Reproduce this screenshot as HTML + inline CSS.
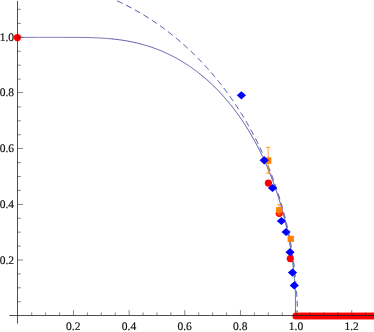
<!DOCTYPE html>
<html><head><meta charset="utf-8"><style>
html,body{margin:0;padding:0;background:#fff;}
svg{display:block}
text{font-family:"Liberation Serif",serif;font-size:11.5px;fill:#111;stroke:#111;stroke-width:0.18px;text-rendering:geometricPrecision}
#w{will-change:transform;width:374px;height:332px}
</style></head><body>
<div id="w"><svg width="374" height="332" viewBox="0 0 374 332">
<rect width="374" height="332" fill="#fff"/>
<path d="M17.80,37.35 L35.97,37.35 L36.44,37.35 L36.93,37.35 L37.45,37.35 L38.00,37.35 L38.58,37.35 L39.19,37.35 L39.84,37.35 L40.53,37.35 L41.27,37.35 L42.05,37.35 L42.89,37.35 L43.79,37.35 L44.76,37.35 L45.80,37.35 L46.92,37.35 L48.14,37.35 L49.46,37.35 L50.91,37.35 L52.49,37.35 L54.24,37.35 L56.16,37.35 L58.31,37.35 L60.70,37.35 L63.40,37.35 L66.46,37.36 L69.96,37.36 L74.00,37.38 L78.71,37.41 L84.28,37.48 L90.96,37.63 L91.87,37.66 L99.09,37.95 L99.32,37.96 L104.39,38.27 L108.37,38.57 L109.17,38.64" fill="none" stroke="#3d3d99" stroke-width="0.68"/>
<path d="M109.17,38.64 L111.70,38.88 L114.60,39.18 L117.19,39.49 L119.53,39.80 L121.68,40.10 L121.90,40.13 L123.68,40.41 L125.55,40.71 L127.31,41.02 L128.98,41.32 L130.56,41.63 L132.07,41.93 L133.51,42.24 L134.90,42.55 L136.23,42.85 L137.52,43.16 L138.29,43.35 L138.76,43.46 L139.97,43.77 L141.13,44.07 L142.27,44.38 L143.37,44.69 L144.44,44.99 L145.49,45.30 L146.51,45.60 L147.50,45.91 L148.47,46.21 L149.43,46.52 L150.36,46.83 L151.27,47.13 L152.16,47.44 L153.04,47.74 L153.90,48.05 L154.75,48.35 L155.58,48.66 L156.39,48.97 L157.20,49.27 L157.99,49.58 L158.76,49.88 L159.53,50.19 L159.72,50.27 L160.28,50.49 L161.02,50.80 L161.75,51.10 L162.47,51.41 L163.19,51.72 L163.89,52.02 L164.58,52.33 L165.26,52.63 L165.94,52.94 L166.60,53.24 L167.26,53.55 L167.91,53.86 L168.55,54.16 L169.19,54.47 L169.81,54.77 L170.44,55.08 L171.05,55.38 L171.66,55.69 L172.26,56.00 L172.85,56.30 L173.44,56.61 L174.02,56.91 L174.60,57.22 L175.17,57.52 L175.73,57.83 L176.29,58.14 L176.85,58.44 L177.40,58.75 L177.94,59.05 L178.48,59.36 L179.01,59.66 L179.54,59.97 L180.07,60.27 L180.59,60.58 L181.10,60.89 L181.62,61.19 L182.12,61.50 L182.63,61.80 L183.13,62.11 L183.62,62.41 L184.11,62.72 L184.60,63.03 L185.08,63.33 L185.56,63.64 L186.04,63.94 L186.51,64.25 L186.98,64.55 L187.45,64.86 L187.91,65.17 L187.93,65.18 L188.37,65.47 L188.82,65.78 L189.28,66.08 L189.73,66.39 L190.17,66.69 L190.61,67.00 L191.05,67.31 L191.49,67.61 L191.93,67.92 L192.36,68.22 L192.79,68.53 L193.21,68.83 L193.63,69.14 L194.05,69.44 L194.47,69.75 L194.89,70.06 L195.30,70.36 L195.71,70.67 L196.12,70.97 L196.52,71.28 L196.92,71.58 L197.32,71.89 L197.72,72.20 L198.11,72.50 L198.51,72.81 L198.90,73.11 L199.29,73.42 L199.67,73.72" fill="none" stroke="#3d3d99" stroke-width="0.85"/>
<path d="M199.29,73.42 L199.67,73.72 L200.06,74.03 L200.44,74.34 L200.82,74.64 L201.19,74.95 L201.57,75.25 L201.94,75.56 L202.31,75.86 L202.68,76.17 L203.05,76.48 L203.41,76.78 L203.78,77.09 L204.14,77.39 L204.50,77.70 L204.86,78.00 L205.21,78.31 L205.57,78.61 L205.92,78.92 L206.27,79.23 L206.62,79.53 L206.96,79.84 L207.31,80.14 L207.65,80.45 L207.99,80.75 L208.33,81.06 L208.67,81.37 L209.01,81.67 L209.34,81.98 L209.67,82.28 L210.01,82.59 L210.34,82.89 L210.66,83.20 L210.99,83.51 L211.32,83.81 L211.64,84.12 L211.96,84.42 L212.28,84.73 L212.60,85.03 L212.92,85.34 L213.24,85.65 L213.55,85.95 L213.87,86.26 L214.18,86.56 L214.49,86.87 L214.80,87.17 L215.11,87.48 L215.41,87.78 L215.72,88.09 L216.02,88.40 L216.32,88.70 L216.63,89.01 L216.93,89.31 L217.22,89.62 L217.52,89.92 L217.82,90.23 L218.11,90.54 L218.41,90.84 L218.70,91.15 L218.99,91.45 L219.28,91.76 L219.57,92.06 L219.86,92.37 L220.14,92.68 L220.43,92.98 L220.71,93.29 L221.00,93.59 L221.28,93.90 L221.56,94.20 L221.84,94.51 L222.12,94.82 L222.39,95.12 L222.67,95.43 L222.94,95.73 L223.22,96.04 L223.49,96.34 L223.76,96.65 L224.03,96.95 L224.30,97.26 L224.57,97.57 L224.84,97.87 L225.11,98.18 L225.37,98.48 L225.64,98.79 L225.90,99.09 L226.16,99.40 L226.42,99.71 L226.68,100.01 L226.94,100.32 L227.20,100.62 L227.46,100.93 L227.72,101.23 L227.97,101.54 L228.23,101.85 L228.48,102.15 L228.73,102.46 L228.99,102.76 L229.24,103.07 L229.49,103.37 L229.74,103.68 L229.98,103.99 L230.23,104.29 L230.48,104.60 L230.72,104.90 L230.97,105.21 L231.21,105.51 L231.46,105.82 L231.70,106.12 L231.94,106.43 L232.18,106.74 L232.42,107.04 L232.66,107.35 L232.89,107.65 L233.13,107.96 L233.37,108.26 L233.60,108.57 L233.84,108.88 L234.07,109.18 L234.30,109.49 L234.54,109.79 L234.77,110.10 L235.00,110.40 L235.23,110.71 L235.46,111.02 L235.68,111.32 L235.91,111.63 L236.14,111.93 L236.36,112.24 L236.59,112.54 L236.81,112.85 L237.04,113.16 L237.26,113.46 L237.48,113.77 L237.70,114.07 L237.92,114.38 L238.14,114.68 L238.36,114.99 L238.58,115.29 L238.80,115.60 L239.01,115.91 L239.23,116.21 L239.45,116.52 L239.66,116.82 L239.87,117.13 L240.09,117.43 L240.30,117.74 L240.51,118.05 L240.72,118.35 L240.93,118.66 L241.14,118.96 L241.35,119.27 L241.56,119.57 L241.77,119.88 L241.98,120.19 L242.18,120.49 L242.39,120.80 L242.59,121.10 L242.80,121.41 L243.00,121.71 L243.20,122.02 L243.41,122.33 L243.61,122.63 L243.81,122.94 L244.01,123.24 L244.21,123.55 L244.41,123.85 L244.61,124.16 L244.81,124.46 L245.00,124.77 L245.20,125.08 L245.40,125.38 L245.59,125.69 L245.79,125.99 L245.98,126.30 L246.17,126.60 L246.37,126.91 L246.56,127.22 L246.75,127.52 L246.94,127.83 L247.13,128.13 L247.32,128.44 L247.51,128.74 L247.70,129.05 L247.89,129.36 L248.08,129.66 L248.27,129.97 L248.45,130.27 L248.64,130.58 L248.82,130.88 L249.01,131.19 L249.19,131.50 L249.38,131.80 L249.56,132.11 L249.74,132.41 L249.92,132.72 L250.11,133.02 L250.29,133.33 L250.47,133.63 L250.65,133.94 L250.83,134.25 L251.00,134.55 L251.18,134.86 L251.36,135.16 L251.54,135.47 L251.71,135.77 L251.89,136.08 L252.07,136.39 L252.24,136.69 L252.42,137.00 L252.59,137.30 L252.76,137.61 L252.94,137.91 L253.11,138.22 L253.28,138.53 L253.45,138.83 L253.62,139.14 L253.79,139.44 L253.96,139.75 L254.13,140.05 L254.30,140.36 L254.47,140.67 L254.64,140.97 L254.80,141.28 L254.97,141.58 L255.14,141.89 L255.30,142.19 L255.47,142.50 L255.63,142.80 L255.80,143.11 L255.96,143.42 L256.12,143.72 L256.29,144.03 L256.45,144.33 L256.61,144.64 L256.77,144.94 L256.93,145.25 L257.09,145.56 L257.25,145.86 L257.41,146.17 L257.57,146.47 L257.73,146.78 L257.89,147.08 L258.05,147.39 L258.20,147.70 L258.36,148.00 L258.52,148.31 L258.67,148.61 L258.83,148.92 L258.98,149.22 L259.14,149.53 L259.29,149.84 L259.44,150.14 L259.60,150.45 L259.75,150.75 L259.90,151.06 L260.05,151.36 L260.20,151.67 L260.36,151.97 L260.51,152.28 L260.66,152.59 L260.81,152.89 L260.95,153.20 L261.10,153.50 L261.25,153.81 L261.40,154.11 L261.55,154.42 L261.69,154.73 L261.84,155.03 L261.99,155.34 L262.13,155.64 L262.28,155.95 L262.42,156.25 L262.57,156.56 L262.71,156.87 L262.85,157.17 L263.00,157.48 L263.14,157.78 L263.28,158.09 L263.42,158.39 L263.56,158.70 L263.70,159.01 L263.85,159.31 L263.99,159.62 L264.13,159.92 L264.26,160.23 L264.40,160.53 L264.54,160.84 L264.68,161.14 L264.82,161.45 L264.95,161.76 L265.09,162.06 L265.23,162.37 L265.36,162.67 L265.50,162.98 L265.64,163.28 L265.77,163.59 L265.90,163.90 L266.04,164.20 L266.17,164.51 L266.31,164.81 L266.44,165.12 L266.57,165.42 L266.70,165.73 L266.84,166.04 L266.97,166.34 L267.10,166.65 L267.23,166.95 L267.36,167.26 L267.49,167.56 L267.62,167.87 L267.75,168.18 L267.88,168.48 L268.00,168.79 L268.13,169.09 L268.26,169.40 L268.39,169.70 L268.51,170.01 L268.64,170.31 L268.77,170.62 L268.89,170.93 L269.02,171.23 L269.14,171.54 L269.27,171.84 L269.39,172.15 L269.51,172.45 L269.64,172.76 L269.76,173.07 L269.88,173.37 L270.01,173.68 L270.13,173.98 L270.25,174.29 L270.37,174.59 L270.49,174.90 L270.61,175.21 L270.73,175.51 L270.85,175.82 L270.97,176.12 L271.09,176.43 L271.21,176.73 L271.33,177.04 L271.45,177.35 L271.56,177.65 L271.68,177.96 L271.80,178.26 L271.92,178.57 L272.03,178.87 L272.15,179.18 L272.26,179.48 L272.38,179.79 L272.49,180.10 L272.61,180.40 L272.72,180.71 L272.84,181.01 L272.95,181.32 L273.06,181.62 L273.18,181.93 L273.29,182.24 L273.40,182.54 L273.51,182.85 L273.62,183.15 L273.74,183.46 L273.85,183.76 L273.96,184.07 L274.07,184.38 L274.18,184.68 L274.29,184.99 L274.40,185.29 L274.50,185.60 L274.61,185.90 L274.72,186.21 L274.83,186.52 L274.94,186.82 L275.04,187.13 L275.15,187.43 L275.26,187.74 L275.36,188.04 L275.47,188.35 L275.57,188.65 L275.68,188.96 L275.78,189.27 L275.89,189.57 L275.99,189.88 L276.10,190.18 L276.20,190.49 L276.30,190.79 L276.41,191.10 L276.51,191.41 L276.61,191.71 L276.71,192.02 L276.82,192.32 L276.92,192.63 L277.02,192.93 L277.12,193.24 L277.22,193.55 L277.32,193.85 L277.42,194.16 L277.52,194.46 L277.62,194.77 L277.72,195.07 L277.82,195.38 L277.91,195.69 L278.01,195.99 L278.11,196.30 L278.21,196.60 L278.30,196.91 L278.40,197.21 L278.50,197.52 L278.59,197.82 L278.69,198.13 L278.78,198.44 L278.88,198.74 L278.97,199.05 L279.07,199.35 L279.16,199.66 L279.26,199.96 L279.35,200.27 L279.44,200.58 L279.54,200.88 L279.63,201.19 L279.72,201.49 L279.81,201.80 L279.91,202.10 L280.00,202.41 L280.09,202.72 L280.18,203.02 L280.27,203.33 L280.36,203.63 L280.45,203.94 L280.54,204.24 L280.63,204.55 L280.72,204.86 L280.81,205.16 L280.90,205.47 L280.98,205.77 L281.07,206.08 L281.16,206.38 L281.25,206.69 L281.33,206.99 L281.42,207.30 L281.51,207.61 L281.59,207.91 L281.68,208.22 L281.76,208.52 L281.85,208.83 L281.93,209.13 L282.02,209.44 L282.10,209.75 L282.19,210.05 L282.27,210.36 L282.36,210.66 L282.44,210.97 L282.52,211.27 L282.60,211.58 L282.69,211.89 L282.77,212.19 L282.85,212.50 L282.93,212.80 L283.01,213.11 L283.10,213.41 L283.18,213.72 L283.26,214.03 L283.34,214.33 L283.42,214.64 L283.50,214.94 L283.58,215.25 L283.65,215.55 L283.73,215.86 L283.81,216.16 L283.89,216.47 L283.97,216.78 L284.05,217.08 L284.12,217.39 L284.20,217.69 L284.28,218.00 L284.35,218.30 L284.43,218.61 L284.51,218.92 L284.58,219.22 L284.66,219.53 L284.73,219.83 L284.81,220.14 L284.88,220.44 L284.96,220.75 L285.03,221.06 L285.10,221.36 L285.18,221.67 L285.25,221.97 L285.32,222.28 L285.40,222.58 L285.47,222.89 L285.54,223.20 L285.61,223.50 L285.69,223.81 L285.76,224.11 L285.83,224.42 L285.90,224.72 L285.97,225.03 L286.04,225.33 L286.11,225.64 L286.18,225.95 L286.25,226.25 L286.32,226.56 L286.39,226.86 L286.46,227.17 L286.52,227.47 L286.59,227.78 L286.66,228.09 L286.73,228.39 L286.80,228.70 L286.86,229.00 L286.93,229.31 L287.00,229.61 L287.06,229.92 L287.13,230.23 L287.19,230.53 L287.26,230.84 L287.33,231.14 L287.39,231.45 L287.45,231.75 L287.52,232.06 L287.58,232.37 L287.65,232.67 L287.71,232.98 L287.77,233.28 L287.84,233.59 L287.90,233.89 L287.96,234.20 L288.03,234.50 L288.09,234.81 L288.15,235.12 L288.21,235.42 L288.27,235.73 L288.33,236.03 L288.40,236.34 L288.46,236.64 L288.52,236.95 L288.58,237.26 L288.64,237.56 L288.70,237.87 L288.76,238.17 L288.81,238.48 L288.87,238.78 L288.93,239.09 L288.99,239.40 L289.05,239.70 L289.11,240.01 L289.16,240.31 L289.22,240.62 L289.28,240.92 L289.33,241.23 L289.39,241.53 L289.45,241.84 L289.50,242.15 L289.56,242.45 L289.62,242.76 L289.67,243.06 L289.73,243.37 L289.78,243.67 L289.83,243.98 L289.89,244.29 L289.94,244.59 L290.00,244.90 L290.05,245.20 L290.10,245.51 L290.16,245.81 L290.21,246.12 L290.26,246.43 L290.31,246.73 L290.37,247.04 L290.42,247.34 L290.47,247.65 L290.52,247.95 L290.57,248.26 L290.62,248.57 L290.67,248.87 L290.72,249.18 L290.77,249.48 L290.82,249.79 L290.87,250.09 L290.92,250.40 L290.97,250.70 L291.02,251.01 L291.07,251.32 L291.12,251.62 L291.17,251.93 L291.21,252.23 L291.26,252.54 L291.31,252.84 L291.36,253.15 L291.40,253.46 L291.45,253.76 L291.50,254.07 L291.54,254.37 L291.59,254.68 L291.63,254.98 L291.68,255.29 L291.73,255.60 L291.77,255.90 L291.82,256.21 L291.86,256.51 L291.90,256.82 L291.95,257.12 L291.99,257.43 L292.04,257.74 L292.08,258.04 L292.12,258.35 L292.16,258.65 L292.21,258.96 L292.25,259.26 L292.29,259.57 L292.33,259.87 L292.37,260.18 L292.42,260.49 L292.46,260.79 L292.50,261.10 L292.54,261.40 L292.58,261.71 L292.62,262.01 L292.66,262.32 L292.70,262.63 L292.74,262.93 L292.78,263.24 L292.82,263.54 L292.86,263.85 L292.89,264.15 L292.93,264.46 L292.97,264.77 L293.01,265.07 L293.05,265.38 L293.08,265.68 L293.12,265.99 L293.16,266.29 L293.19,266.60 L293.23,266.91 L293.27,267.21 L293.30,267.52 L293.34,267.82 L293.37,268.13 L293.41,268.43 L293.44,268.74 L293.48,269.04 L293.51,269.35 L293.55,269.66 L293.58,269.96 L293.62,270.27 L293.65,270.57 L293.68,270.88 L293.72,271.18 L293.75,271.49 L293.78,271.80 L293.81,272.10 L293.85,272.41 L293.88,272.71 L293.91,273.02 L293.94,273.32 L293.97,273.63 L294.00,273.94 L294.03,274.24 L294.06,274.55 L294.09,274.85 L294.12,275.16 L294.15,275.46 L294.18,275.77 L294.21,276.08 L294.24,276.38 L294.27,276.69 L294.30,276.99 L294.33,277.30 L294.36,277.60 L294.39,277.91 L294.41,278.21 L294.44,278.52 L294.47,278.83 L294.50,279.13 L294.52,279.44 L294.55,279.74 L294.58,280.05 L294.60,280.35 L294.63,280.66 L294.65,280.97 L294.68,281.27 L294.70,281.58 L294.73,281.88 L294.75,282.19 L294.78,282.49 L294.80,282.80 L294.83,283.11 L294.85,283.41 L294.87,283.72 L294.90,284.02 L294.92,284.33 L294.94,284.63 L294.97,284.94 L294.99,285.25 L295.01,285.55 L295.03,285.86 L295.06,286.16 L295.08,286.47 L295.10,286.77 L295.12,287.08 L295.14,287.38 L295.16,287.69 L295.18,288.00 L295.20,288.30 L295.22,288.61 L295.24,288.91 L295.26,289.22 L295.28,289.52 L295.30,289.83 L295.32,290.14 L295.34,290.44 L295.36,290.75 L295.37,291.05 L295.39,291.36 L295.41,291.66 L295.43,291.97 L295.44,292.28 L295.45,292.58 L295.45,292.89 L295.45,293.19 L295.45,293.50 L295.45,293.80 L295.45,294.11 L295.45,294.42 L295.45,294.72 L295.45,295.03 L295.45,295.33 L295.45,295.64 L295.45,295.94 L295.45,296.25 L295.45,296.55 L295.45,296.86 L295.45,297.17 L295.45,297.47 L295.45,297.78 L295.45,298.08 L295.45,298.39 L295.45,298.69 L295.45,299.00 L295.45,299.31 L295.45,299.61 L295.45,299.92 L295.45,300.22 L295.45,300.53 L295.45,300.83 L295.45,301.14 L295.45,301.45 L295.45,301.75 L295.45,302.06 L295.45,302.36 L295.45,302.67 L295.45,302.97 L295.45,303.28 L295.45,303.59 L295.45,303.89 L295.45,304.20 L295.45,304.50 L295.45,304.81 L295.45,305.11 L295.45,305.42 L295.45,305.72 L295.45,306.03 L295.45,306.34 L295.45,306.64 L295.45,306.95 L295.45,307.25 L295.45,307.56 L295.45,307.86 L295.45,308.17 L295.45,308.48 L295.45,308.78 L295.45,309.09 L295.45,309.39 L295.45,309.70 L295.45,310.00 L295.45,310.31 L295.45,310.62 L295.45,310.92 L295.45,311.23 L295.45,311.53 L295.45,311.84 L295.45,312.14 L295.45,312.45" fill="none" stroke="#3d3d99" stroke-width="1.0"/>
<path d="M117.18,0.90 L118.31,1.42 L119.42,1.94 L120.51,2.46 L121.60,2.98 L122.67,3.49 L123.72,4.01 L124.77,4.53 L125.80,5.05 L126.82,5.57 L127.84,6.09 L128.84,6.61 L129.82,7.13 L130.80,7.64 L131.77,8.16 L132.73,8.68 L133.68,9.20 L134.62,9.72 L135.55,10.24 L136.48,10.76 L137.39,11.28 L138.30,11.80 L139.19,12.31 L140.08,12.83 L140.96,13.35 L141.84,13.87 L142.70,14.39 L143.56,14.91 L144.41,15.43 L145.25,15.95 L146.09,16.47 L146.92,16.98 L147.74,17.50 L148.56,18.02 L149.37,18.54 L150.17,19.06 L150.97,19.58 L151.76,20.10 L152.55,20.62 L153.33,21.13 L154.10,21.65 L154.87,22.17 L155.63,22.69 L156.39,23.21 L157.14,23.73 L157.89,24.25 L158.63,24.77 L159.36,25.29 L160.09,25.80 L160.82,26.32 L161.54,26.84 L162.25,27.36 L162.96,27.88 L163.67,28.40 L164.37,28.92 L165.07,29.44 L165.76,29.95 L166.45,30.47 L167.13,30.99 L167.81,31.51 L168.48,32.03 L169.15,32.55 L169.82,33.07 L170.48,33.59 L171.14,34.11 L171.79,34.62 L172.44,35.14 L173.09,35.66 L173.73,36.18 L174.37,36.70 L175.01,37.22 L175.64,37.74 L176.26,38.26 L176.89,38.78 L177.51,39.29 L178.12,39.81 L178.74,40.33 L179.35,40.85 L179.95,41.37 L180.55,41.89 L181.15,42.41 L181.75,42.93 L182.34,43.44 L182.93,43.96 L183.52,44.48 L184.10,45.00 L184.68,45.52 L185.26,46.04 L185.83,46.56 L186.40,47.08 L186.97,47.60 L187.53,48.11 L188.10,48.63 L188.65,49.15 L189.21,49.67 L189.76,50.19 L190.31,50.71 L190.86,51.23 L191.40,51.75 L191.95,52.26 L192.48,52.78 L193.02,53.30 L193.55,53.82 L194.09,54.34 L194.61,54.86 L195.14,55.38 L195.66,55.90 L196.18,56.42 L196.70,56.93 L197.22,57.45 L197.73,57.97 L198.24,58.49 L198.75,59.01 L199.25,59.53 L199.75,60.05 L200.26,60.57 L200.75,61.09 L201.25,61.60 L201.74,62.12 L202.23,62.64 L202.72,63.16 L203.21,63.68 L203.69,64.20 L204.18,64.72 L204.66,65.24 L205.13,65.75 L205.61,66.27 L206.08,66.79 L206.55,67.31 L207.02,67.83 L207.49,68.35 L207.95,68.87 L208.42,69.39 L208.88,69.91 L209.33,70.42 L209.79,70.94 L210.24,71.46 L210.70,71.98 L211.15,72.50 L211.60,73.02 L212.04,73.54 L212.49,74.06 L212.93,74.58 L213.37,75.09 L213.81,75.61 L214.24,76.13 L214.68,76.65 L215.11,77.17 L215.54,77.69 L215.97,78.21 L216.40,78.73 L216.82,79.24 L217.25,79.76 L217.67,80.28 L218.09,80.80 L218.50,81.32 L218.92,81.84 L219.33,82.36 L219.75,82.88 L220.16,83.40 L220.57,83.91 L220.97,84.43 L221.38,84.95 L221.78,85.47 L222.19,85.99 L222.59,86.51 L222.99,87.03 L223.38,87.55 L223.78,88.06 L224.17,88.58 L224.56,89.10 L224.95,89.62 L225.34,90.14 L225.73,90.66 L226.12,91.18 L226.50,91.70 L226.88,92.22 L227.26,92.73 L227.64,93.25 L228.02,93.77 L228.40,94.29 L228.77,94.81 L229.14,95.33 L229.52,95.85 L229.89,96.37 L230.25,96.89 L230.62,97.40 L230.99,97.92 L231.35,98.44 L231.71,98.96 L232.07,99.48 L232.43,100.00 L232.79,100.52 L233.15,101.04 L233.50,101.55 L233.86,102.07 L234.21,102.59 L234.56,103.11 L234.91,103.63 L235.26,104.15 L235.60,104.67 L235.95,105.19 L236.29,105.71 L236.64,106.22 L236.98,106.74 L237.32,107.26 L237.65,107.78 L237.99,108.30 L238.33,108.82 L238.66,109.34 L238.99,109.86 L239.33,110.37 L239.66,110.89 L239.98,111.41 L240.31,111.93 L240.64,112.45 L240.96,112.97 L241.29,113.49 L241.61,114.01 L241.93,114.53 L242.25,115.04 L242.57,115.56 L242.89,116.08 L243.20,116.60 L243.52,117.12 L243.83,117.64 L244.14,118.16 L244.45,118.68 L244.76,119.20 L245.07,119.71 L245.38,120.23 L245.68,120.75 L245.99,121.27 L246.29,121.79 L246.60,122.31 L246.90,122.83 L247.20,123.35 L247.49,123.86 L247.79,124.38 L248.09,124.90 L248.38,125.42 L248.68,125.94 L248.97,126.46 L249.26,126.98 L249.55,127.50 L249.84,128.02 L250.13,128.53 L250.42,129.05 L250.70,129.57 L250.99,130.09 L251.27,130.61 L251.55,131.13 L251.83,131.65 L252.11,132.17 L252.39,132.68 L252.67,133.20 L252.95,133.72 L253.22,134.24 L253.50,134.76 L253.77,135.28 L254.04,135.80 L254.32,136.32 L254.59,136.84 L254.85,137.35 L255.12,137.87 L255.39,138.39 L255.66,138.91 L255.92,139.43 L256.18,139.95 L256.45,140.47 L256.71,140.99 L256.97,141.51 L257.23,142.02 L257.49,142.54 L257.74,143.06 L258.00,143.58 L258.25,144.10 L258.51,144.62 L258.76,145.14 L259.01,145.66 L259.27,146.17 L259.52,146.69 L259.76,147.21 L260.01,147.73 L260.26,148.25 L260.51,148.77 L260.75,149.29 L260.99,149.81 L261.24,150.33 L261.48,150.84 L261.72,151.36 L261.96,151.88 L262.20,152.40 L262.44,152.92 L262.67,153.44 L262.91,153.96 L263.14,154.48 L263.38,154.99 L263.61,155.51 L263.84,156.03 L264.07,156.55 L264.30,157.07 L264.53,157.59 L264.76,158.11 L264.99,158.63 L265.22,159.15 L265.44,159.66 L265.67,160.18 L265.89,160.70 L266.11,161.22 L266.33,161.74 L266.55,162.26 L266.77,162.78 L266.99,163.30 L267.21,163.82 L267.43,164.33 L267.64,164.85 L267.86,165.37 L268.07,165.89 L268.28,166.41 L268.50,166.93 L268.71,167.45 L268.92,167.97 L269.13,168.48 L269.34,169.00 L269.54,169.52 L269.75,170.04 L269.96,170.56 L270.16,171.08 L270.36,171.60 L270.57,172.12 L270.77,172.64 L270.97,173.15 L271.17,173.67 L271.37,174.19 L271.57,174.71 L271.77,175.23 L271.96,175.75 L272.16,176.27 L272.36,176.79 L272.55,177.31 L272.74,177.82 L272.94,178.34 L273.13,178.86 L273.32,179.38 L273.51,179.90 L273.70,180.42 L273.88,180.94 L274.07,181.46 L274.26,181.97 L274.44,182.49 L274.63,183.01 L274.81,183.53 L275.00,184.05 L275.18,184.57 L275.36,185.09 L275.54,185.61 L275.72,186.13 L275.90,186.64 L276.08,187.16 L276.25,187.68 L276.43,188.20 L276.60,188.72 L276.78,189.24 L276.95,189.76 L277.13,190.28 L277.30,190.79 L277.47,191.31 L277.64,191.83 L277.81,192.35 L277.98,192.87 L278.15,193.39 L278.31,193.91 L278.48,194.43 L278.64,194.95 L278.81,195.46 L278.97,195.98 L279.14,196.50 L279.30,197.02 L279.46,197.54 L279.62,198.06 L279.78,198.58 L279.94,199.10 L280.10,199.62 L280.26,200.13 L280.41,200.65 L280.57,201.17 L280.72,201.69 L280.88,202.21 L281.03,202.73 L281.18,203.25 L281.33,203.77 L281.49,204.28 L281.64,204.80 L281.79,205.32 L281.93,205.84 L282.08,206.36 L282.23,206.88 L282.38,207.40 L282.52,207.92 L282.67,208.44 L282.81,208.95 L282.95,209.47 L283.10,209.99 L283.24,210.51 L283.38,211.03 L283.52,211.55 L283.66,212.07 L283.80,212.59 L283.93,213.10 L284.07,213.62 L284.21,214.14 L284.34,214.66 L284.48,215.18 L284.61,215.70 L284.74,216.22 L284.88,216.74 L285.01,217.26 L285.14,217.77 L285.27,218.29 L285.40,218.81 L285.53,219.33 L285.66,219.85 L285.78,220.37 L285.91,220.89 L286.03,221.41 L286.16,221.93 L286.28,222.44 L286.41,222.96 L286.53,223.48 L286.65,224.00 L286.77,224.52 L286.89,225.04 L287.01,225.56 L287.13,226.08 L287.25,226.59 L287.37,227.11 L287.48,227.63 L287.60,228.15 L287.72,228.67 L287.83,229.19 L287.94,229.71 L288.06,230.23 L288.17,230.75 L288.28,231.26 L288.39,231.78 L288.50,232.30 L288.61,232.82 L288.72,233.34 L288.83,233.86 L288.93,234.38 L289.04,234.90 L289.15,235.41 L289.25,235.93 L289.36,236.45 L289.46,236.97 L289.56,237.49 L289.66,238.01 L289.77,238.53 L289.87,239.05 L289.97,239.57 L290.07,240.08 L290.16,240.60 L290.26,241.12 L290.36,241.64 L290.46,242.16 L290.55,242.68 L290.65,243.20 L290.74,243.72 L290.83,244.24 L290.93,244.75 L291.02,245.27 L291.11,245.79 L291.20,246.31 L291.29,246.83 L291.38,247.35 L291.47,247.87 L291.56,248.39 L291.64,248.90 L291.73,249.42 L291.82,249.94 L291.90,250.46 L291.99,250.98 L292.07,251.50 L292.15,252.02 L292.23,252.54 L292.32,253.06 L292.40,253.57 L292.48,254.09 L292.56,254.61 L292.63,255.13 L292.71,255.65 L292.79,256.17 L292.87,256.69 L292.94,257.21 L293.02,257.72 L293.09,258.24 L293.17,258.76 L293.24,259.28 L293.31,259.80 L293.38,260.32 L293.46,260.84 L293.53,261.36 L293.60,261.88 L293.66,262.39 L293.73,262.91 L293.80,263.43 L293.87,263.95 L293.93,264.47 L294.00,264.99 L294.06,265.51 L294.13,266.03 L294.19,266.55 L294.25,267.06 L294.32,267.58 L294.38,268.10 L294.44,268.62 L294.50,269.14 L294.56,269.66 L294.62,270.18 L294.68,270.70 L294.73,271.21 L294.79,271.73 L294.85,272.25 L294.90,272.77 L294.96,273.29 L295.01,273.81 L295.06,274.33 L295.12,274.85 L295.17,275.37 L295.22,275.88 L295.27,276.40 L295.32,276.92 L295.37,277.44 L295.42,277.96 L295.46,278.48 L295.51,279.00 L295.56,279.52 L295.60,280.04 L295.65,280.55 L295.69,281.07 L295.74,281.59 L295.78,282.11 L295.82,282.63 L295.87,283.15 L295.91,283.67 L295.95,284.19 L295.99,284.70 L296.03,285.22 L296.06,285.74 L296.10,286.26 L296.14,286.78 L296.18,287.30 L296.21,287.82 L296.26,288.34 L296.30,288.86 L296.34,289.37 L296.38,289.89 L296.42,290.41 L296.46,290.93 L296.50,291.45 L296.54,291.97 L296.57,292.49 L296.61,293.01 L296.65,293.52 L296.68,294.04 L296.72,294.56 L296.75,295.08 L296.78,295.60 L296.81,296.12 L296.85,296.64 L296.88,297.16 L296.91,297.68 L296.94,298.19 L296.97,298.71 L297.00,299.23 L297.02,299.75 L297.05,300.27 L297.08,300.79 L297.10,301.31 L297.13,301.83 L297.15,302.35 L297.18,302.86 L297.20,303.38 L297.22,303.90 L297.24,304.42 L297.27,304.94 L297.29,305.46 L297.31,305.98 L297.33,306.50 L297.34,307.01 L297.36,307.53 L297.38,308.05 L297.40,308.57 L297.41,309.09 L297.43,309.61 L297.44,310.13 L297.45,310.65 L297.47,311.17 L297.48,311.68 L297.49,312.20" fill="none" stroke="#3d3d99" stroke-width="1.0" stroke-dasharray="5.93 4.004"/>
<circle cx="17.40" cy="37.60" r="3.60" fill="#ff0000"/>
<circle cx="268.40" cy="183.05" r="3.60" fill="#ff0000"/>
<circle cx="279.25" cy="213.30" r="3.60" fill="#ff0000"/>
<circle cx="290.30" cy="258.60" r="3.60" fill="#ff0000"/>
<circle cx="295.90" cy="316.05" r="3.50" fill="#ff0000"/>
<circle cx="298.68" cy="316.05" r="3.50" fill="#ff0000"/>
<circle cx="301.46" cy="316.05" r="3.50" fill="#ff0000"/>
<circle cx="304.25" cy="316.05" r="3.50" fill="#ff0000"/>
<circle cx="307.03" cy="316.05" r="3.50" fill="#ff0000"/>
<circle cx="309.81" cy="316.05" r="3.50" fill="#ff0000"/>
<circle cx="312.59" cy="316.05" r="3.50" fill="#ff0000"/>
<circle cx="315.37" cy="316.05" r="3.50" fill="#ff0000"/>
<circle cx="318.16" cy="316.05" r="3.50" fill="#ff0000"/>
<circle cx="320.94" cy="316.05" r="3.50" fill="#ff0000"/>
<circle cx="323.72" cy="316.05" r="3.50" fill="#ff0000"/>
<circle cx="326.50" cy="316.05" r="3.50" fill="#ff0000"/>
<circle cx="329.28" cy="316.05" r="3.50" fill="#ff0000"/>
<circle cx="332.07" cy="316.05" r="3.50" fill="#ff0000"/>
<circle cx="334.85" cy="316.05" r="3.50" fill="#ff0000"/>
<circle cx="337.63" cy="316.05" r="3.50" fill="#ff0000"/>
<circle cx="340.41" cy="316.05" r="3.50" fill="#ff0000"/>
<circle cx="343.19" cy="316.05" r="3.50" fill="#ff0000"/>
<circle cx="345.98" cy="316.05" r="3.50" fill="#ff0000"/>
<circle cx="348.76" cy="316.05" r="3.50" fill="#ff0000"/>
<circle cx="351.54" cy="316.05" r="3.50" fill="#ff0000"/>
<circle cx="354.32" cy="316.05" r="3.50" fill="#ff0000"/>
<circle cx="357.10" cy="316.05" r="3.50" fill="#ff0000"/>
<circle cx="359.89" cy="316.05" r="3.50" fill="#ff0000"/>
<circle cx="362.67" cy="316.05" r="3.50" fill="#ff0000"/>
<circle cx="365.45" cy="316.05" r="3.50" fill="#ff0000"/>
<circle cx="368.23" cy="316.05" r="3.50" fill="#ff0000"/>
<circle cx="371.01" cy="316.05" r="3.50" fill="#ff0000"/>
<circle cx="373.80" cy="316.05" r="3.50" fill="#ff0000"/>
<circle cx="376.58" cy="316.05" r="3.50" fill="#ff0000"/>
<circle cx="379.36" cy="316.05" r="3.50" fill="#ff0000"/>
<path d="M268.15,147.30 V173.30 M265.85,147.30 H270.45 M265.85,173.30 H270.45" stroke="#ff8000" stroke-width="0.75" fill="none"/>
<rect x="264.95" y="157.35" width="6.40" height="6.40" fill="#ff8000"/>
<path d="M279.10,204.70 V214.80 M277.00,204.70 H281.20 M277.00,214.80 H281.20" stroke="#ff8000" stroke-width="0.75" fill="none"/>
<rect x="276.05" y="207.10" width="6.20" height="6.20" fill="#ff8000"/>
<rect x="287.65" y="235.75" width="6.20" height="6.20" fill="#ff8000"/>
<path d="M236.80,95.30 L241.40,91.20 L246.00,95.30 L241.40,99.40Z" fill="#0000ff"/>
<path d="M259.60,160.30 L264.20,156.20 L268.80,160.30 L264.20,164.40Z" fill="#0000ff"/>
<path d="M267.90,188.00 L272.50,183.90 L277.10,188.00 L272.50,192.10Z" fill="#0000ff"/>
<path d="M276.80,221.00 L281.40,216.90 L286.00,221.00 L281.40,225.10Z" fill="#0000ff"/>
<path d="M281.50,232.00 L286.10,227.90 L290.70,232.00 L286.10,236.10Z" fill="#0000ff"/>
<path d="M285.40,252.20 L290.00,248.10 L294.60,252.20 L290.00,256.30Z" fill="#0000ff"/>
<path d="M287.90,272.60 L292.50,268.50 L297.10,272.60 L292.50,276.70Z" fill="#0000ff"/>
<path d="M289.65,285.40 L294.25,281.30 L298.85,285.40 L294.25,289.50Z" fill="#0000ff"/>
<path d="M9.4,315.5 H374 M17.5,0.9 V323.5" stroke="#222" stroke-width="0.8" fill="none"/>
<path d="M31.72,315.5 v-3.1 M45.63,315.5 v-3.1 M59.55,315.5 v-3.1 M73.46,315.5 v-5.4 M87.38,315.5 v-3.1 M101.29,315.5 v-3.1 M115.21,315.5 v-3.1 M129.12,315.5 v-5.4 M143.04,315.5 v-3.1 M156.95,315.5 v-3.1 M170.87,315.5 v-3.1 M184.78,315.5 v-5.4 M198.70,315.5 v-3.1 M212.61,315.5 v-3.1 M226.53,315.5 v-3.1 M240.44,315.5 v-5.4 M254.36,315.5 v-3.1 M268.27,315.5 v-3.1 M282.19,315.5 v-3.1 M296.10,315.5 v-5.4 M310.02,315.5 v-3.1 M323.93,315.5 v-3.1 M337.85,315.5 v-3.1 M351.76,315.5 v-5.4 M365.68,315.5 v-3.1 M17.5,301.73 h3.3 M17.5,287.82 h3.3 M17.5,273.90 h3.3 M17.5,260.00 h5.6 M17.5,246.07 h3.3 M17.5,232.16 h3.3 M17.5,218.24 h3.3 M17.5,204.45 h5.6 M17.5,190.41 h3.3 M17.5,176.50 h3.3 M17.5,162.58 h3.3 M17.5,148.45 h5.6 M17.5,134.75 h3.3 M17.5,120.84 h3.3 M17.5,106.92 h3.3 M17.5,92.55 h5.6 M17.5,79.09 h3.3 M17.5,65.18 h3.3 M17.5,51.26 h3.3 M17.5,37.20 h5.6 M17.5,23.40 h3.3 M17.5,9.30 h3.3" stroke="#222" stroke-width="0.55" fill="none"/>
<text x="73.31" y="329.5" text-anchor="middle">0.2</text>
<text x="128.97" y="329.5" text-anchor="middle">0.4</text>
<text x="184.63" y="329.5" text-anchor="middle">0.6</text>
<text x="240.29" y="329.5" text-anchor="middle">0.8</text>
<text x="295.95" y="329.5" text-anchor="middle">1.0</text>
<text x="351.61" y="329.5" text-anchor="middle">1.2</text>
<text x="14.05" y="263.75" text-anchor="end">0.2</text>
<text x="14.05" y="208.20" text-anchor="end">0.4</text>
<text x="14.05" y="152.20" text-anchor="end">0.6</text>
<text x="14.05" y="96.30" text-anchor="end">0.8</text>
<text x="14.05" y="40.95" text-anchor="end">1.0</text>
</svg></div></body></html>
